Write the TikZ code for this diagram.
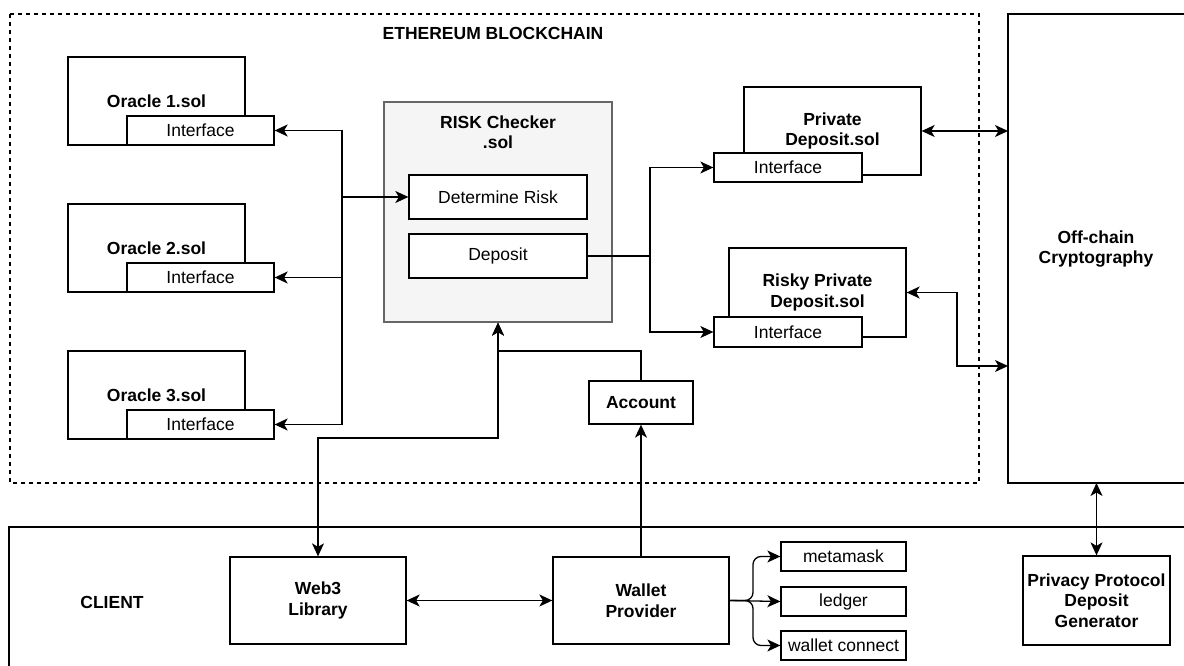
\documentclass[tikz,border=0pt]{standalone}
\usepackage{fontspec}
\setmainfont{Liberation Sans}
\usetikzlibrary{arrows.meta,calc}
\tikzset{
  mytip/.tip={Stealth[length=13pt,width=12pt,inset=3.5pt]}
}
\begin{document}
\begin{tikzpicture}[x=1pt,y=-1pt,
  every node/.style={font=\fontsize{17.5}{20}\selectfont},
  ln/.style={line width=1.3pt,draw=black},
  box/.style={ln,fill=white,inner sep=0pt,align=center},
  bbox/.style={box,font=\bfseries\fontsize{17.5}{20.5}\selectfont},
  arr/.style={ln,-mytip},
  arr2/.style={ln,mytip-mytip},
  lbl/.style={font=\bfseries\fontsize{17.5}{20}\selectfont,align=center,inner sep=0pt}
]
\useasboundingbox (0,0) rectangle (1184,666);
\clip (0,0) rectangle (1184,666);
\fill[white] (0,0) rectangle (1184,666);

% containers
\draw[ln,dash pattern=on 4pt off 4pt] (10,14) rectangle (979,483);
\node[lbl] (eth) at (493,33) {ETHEREUM BLOCKCHAIN};
\draw[ln] (9,527) rectangle (1200,690);
\node[lbl] (client) at (112,602) {CLIENT};

% oracles
\node[bbox,minimum width=177pt,minimum height=88pt] (o1) at (156.5,101) {Oracle 1.sol};
\node[box,minimum width=147pt,minimum height=29pt] (i1) at (200.5,130.5) {Interface};
\node[bbox,minimum width=177pt,minimum height=88pt] (o2) at (156.5,248) {Oracle 2.sol};
\node[box,minimum width=147pt,minimum height=29pt] (i2) at (200.5,277.5) {Interface};
\node[bbox,minimum width=177pt,minimum height=88pt] (o3) at (156.5,395) {Oracle 3.sol};
\node[box,minimum width=147pt,minimum height=29pt] (i3) at (200.5,424.5) {Interface};

% risk checker
\node[ln,draw=black!60,fill=black!4,minimum width=228pt,minimum height=220pt,inner sep=0pt] (rc) at (498,212) {};
\node[lbl] (rct) at (498,132) {RISK Checker\\.sol};
\node[box,minimum width=178pt,minimum height=44pt] (dr) at (498,197) {Determine Risk};
\node[box,minimum width=178pt,minimum height=44pt] (dp) at (498,256) {Deposit};

% deposits
\node[bbox,minimum width=177pt,minimum height=88pt] (pd) at (832.5,131) {Private\\Deposit.sol};
\node[box,minimum width=148pt,minimum height=29pt] (pi) at (788,167.5) {Interface};
\node[bbox,minimum width=177pt,minimum height=89pt] (rd) at (817.5,292.5) {Risky Private\\Deposit.sol};
\node[box,minimum width=148pt,minimum height=30pt] (ri) at (788,332) {Interface};

% off-chain (extends past the right edge)
\draw[ln] (1008,14) rectangle (1220,483);
\coordinate (ocw) at (1008,131);
\coordinate (ocr) at (1008,366);
\coordinate (ocs) at (1096.5,483);
\node[lbl] (oc) at (1096,249.5) {Off-chain\\Cryptography};

% account
\node[bbox,minimum width=104pt,minimum height=43pt] (ac) at (641,402.5) {Account};

% client nodes
\node[bbox,minimum width=176pt,minimum height=87pt] (w3) at (318,600.5) {Web3\\Library};
\node[bbox,minimum width=176pt,minimum height=87pt] (wp) at (641,600.5) {Wallet\\Provider};
\node[box,minimum width=125pt,minimum height=29pt] (mm) at (843.5,556.5) {metamask};
\node[box,minimum width=125pt,minimum height=29pt] (lg) at (843.5,601.5) {ledger};
\node[box,minimum width=125pt,minimum height=29pt] (wc) at (843.5,645.5) {wallet connect};
\node[bbox,minimum width=147pt,minimum height=89pt] (pp) at (1096.5,600.5) {Privacy Protocol\\Deposit\\Generator};

% connectors
\coordinate (bus) at (342,197);
\draw[arr] (bus) |- (i1.east);
\draw[arr] (bus) |- (i2.east);
\draw[arr] (bus) |- (i3.east);
\draw[arr] (bus) -- (dr.west);

\coordinate (split) at (650,256);
\draw[ln] (dp.east) -- (split);
\draw[arr] (split) |- (pi.west);
\draw[arr] (split) |- (ri.west);

\draw[arr2] (pd.east) -- (ocw);
\coordinate (rk) at (957,292.5);
\draw[arr2] (rd.east) -- (rk) |- (ocr);

\coordinate (j1) at (498,438);
\draw[arr2] (w3.north) |- (j1) -- (rc.south);
\coordinate (j2) at (498,351);
\draw[arr] (ac.north) |- (j2) -- (rc.south);
\draw[arr] (wp.north) -- (ac.south);

\draw[arr2] (w3.east) -- (wp.west);
\draw[arr2] (ocs) -- (pp.north);

\coordinate (br) at (753,600.5);
\draw[arr,rounded corners=8pt] (wp.east) -- (br) |- (mm.west);
\draw[arr] (wp.east) -- (lg.west);
\draw[arr,rounded corners=8pt] (wp.east) -- (br) |- (wc.west);
\end{tikzpicture}
\end{document}
